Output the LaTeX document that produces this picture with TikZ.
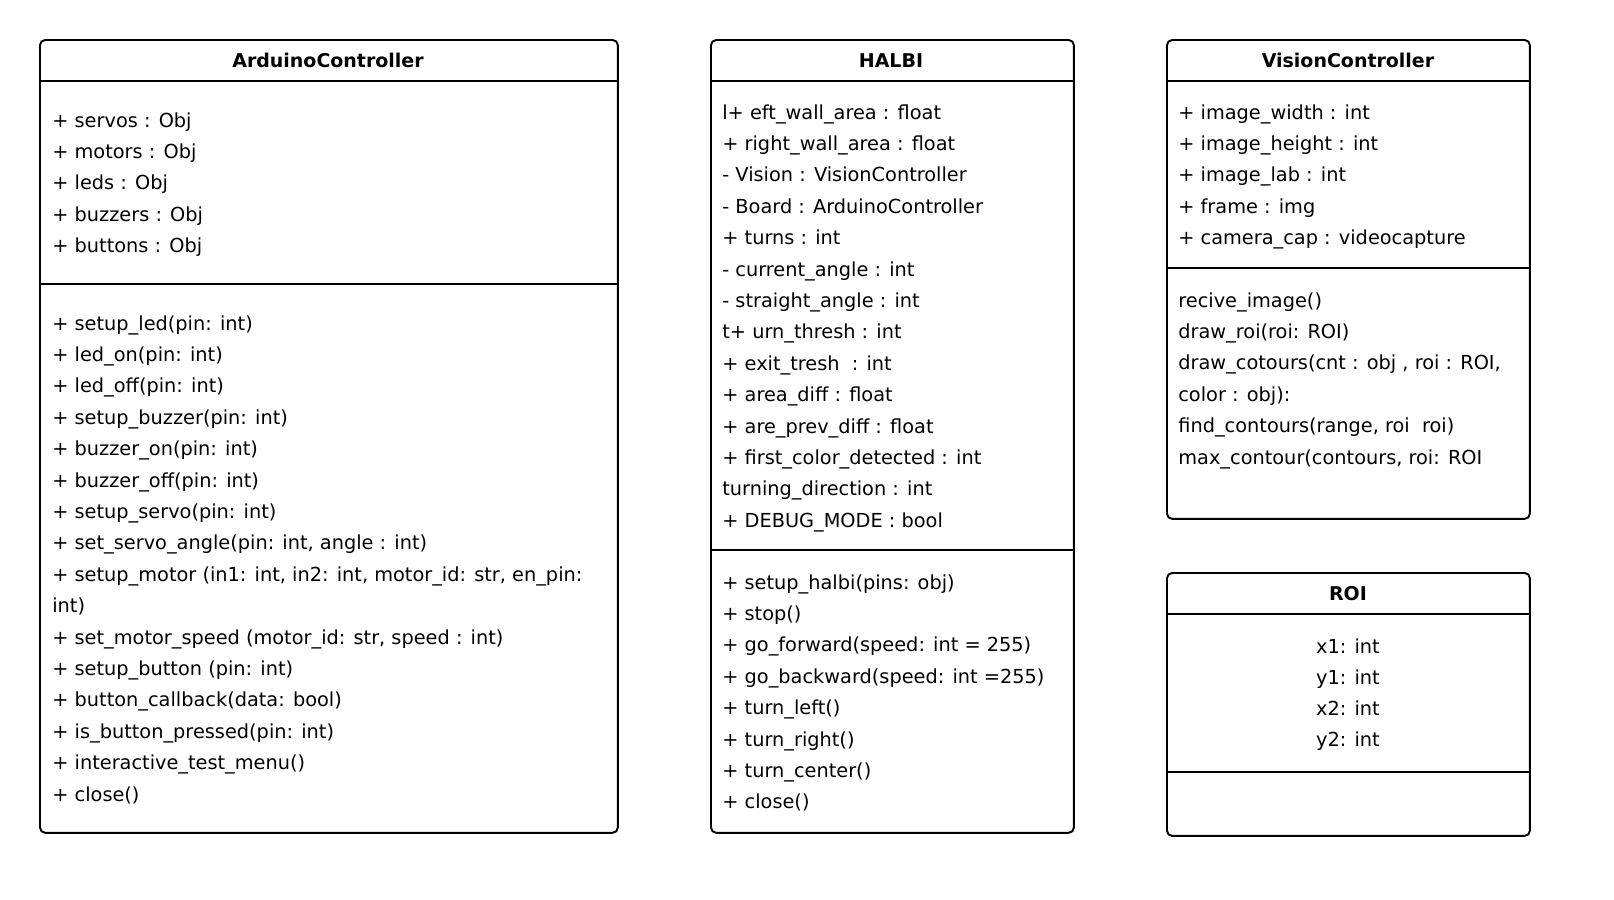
\documentclass[tikz,border=0pt]{standalone}
\usepackage{fontspec}
\setmainfont{DejaVu Sans}
\usetikzlibrary{positioning}

\begin{document}
\begin{tikzpicture}[
  x=0.02cm, y=-0.02cm,
  classbox/.style={draw, line width=1.1pt, rounded corners=3pt, anchor=north west, inner sep=0pt},
  sepline/.style={line width=1.1pt},
  classname/.style={font=\fontsize{10.8}{13}\selectfont\bfseries, anchor=base, inner sep=0pt},
  member/.style={font=\fontsize{11}{13}\selectfont, anchor=base west, inner sep=0pt},
  field/.style={font=\fontsize{11}{13}\selectfont, anchor=base, inner sep=0pt},
]
\useasboundingbox (0,0) rectangle (1614,900);

% ========== ArduinoController (left) ==========
\node[classbox, minimum width=11.56cm, minimum height=15.86cm] (ard) at (39,39) {};
\node[classname] (ard_title) at (328,67) {ArduinoController};
\draw[sepline] (ard.west |- 0,81) -- (ard.east |- 0,81);
\draw[sepline] (ard.west |- 0,284) -- (ard.east |- 0,284);
\foreach \txt [count=\i from 0] in {+ servos : Obj, + motors : Obj, + leds : Obj, + buzzers : Obj, + buttons : Obj}
  \node[member] (ard_attr\i) at (52,127+31.4*\i) {\txt};
\foreach \txt [count=\i from 0] in {
  + setup\_led(pin: int), + led\_on(pin: int), + led\_off(pin: int),
  + setup\_buzzer(pin: int), + buzzer\_on(pin: int), + buzzer\_off(pin: int),
  + setup\_servo(pin: int), {+ set\_servo\_angle(pin: int, angle : int)},
  {+ setup\_motor (in1: int, in2: int, motor\_id: str, en\_pin:}, int),
  {+ set\_motor\_speed (motor\_id: str, speed : int)}, + setup\_button (pin: int),
  + button\_callback(data: bool), + is\_button\_pressed(pin: int),
  + interactive\_test\_menu(), + close()}
  \node[member] (ard_op\i) at (52,330+31.4*\i) {\txt};

% ========== HALBI (center) ==========
\node[classbox, minimum width=7.26cm, minimum height=15.86cm] (halbi) at (710,39) {};
\node[classname] (halbi_title) at (891,67) {HALBI};
\draw[sepline] (halbi.west |- 0,81) -- (halbi.east |- 0,81);
\draw[sepline] (halbi.west |- 0,550) -- (halbi.east |- 0,550);
\foreach \txt [count=\i from 0] in {
  l+ eft\_wall\_area : float, + right\_wall\_area : float,
  - Vision : VisionController, - Board : ArduinoController,
  + turns : int, - current\_angle : int, - straight\_angle : int,
  t+ urn\_thresh : int, + exit\_tresh\ \ : int, + area\_diff : float,
  + are\_prev\_diff : float, + first\_color\_detected : int,
  turning\_direction : int, + DEBUG\_MODE : bool}
  \node[member] (halbi_attr\i) at (722,119+31.4*\i) {\txt};
\foreach \txt [count=\i from 0] in {
  + setup\_halbi(pins: obj), + stop(), + go\_forward(speed: int = 255),
  + go\_backward(speed: int =255), + turn\_left(), + turn\_right(),
  + turn\_center(), + close()}
  \node[member] (halbi_op\i) at (722,589+31.4*\i) {\txt};

% ========== VisionController (right, top) ==========
\node[classbox, minimum width=7.26cm, minimum height=9.58cm] (vision) at (1166,39) {};
\node[classname] (vision_title) at (1348,67) {VisionController};
\draw[sepline] (vision.west |- 0,81) -- (vision.east |- 0,81);
\draw[sepline] (vision.west |- 0,268) -- (vision.east |- 0,268);
\foreach \txt [count=\i from 0] in {
  + image\_width : int, + image\_height : int, + image\_lab : int,
  + frame : img, + camera\_cap : videocapture}
  \node[member] (vision_attr\i) at (1178,119+31.4*\i) {\txt};
\foreach \txt [count=\i from 0] in {
  recive\_image(), draw\_roi(roi: ROI), {draw\_cotours(cnt : obj , roi : ROI,},
  color : obj):, {find\_contours(range, roi\ \ roi)}, {max\_contour(contours, roi: ROI}}
  \node[member] (vision_op\i) at (1178,307+31.4*\i) {\txt};

% ========== ROI (right, bottom) ==========
\node[classbox, minimum width=7.26cm, minimum height=5.26cm] (roi) at (1166,572) {};
\node[classname] (roi_title) at (1348,600) {ROI};
\draw[sepline] (roi.west |- 0,614) -- (roi.east |- 0,614);
\draw[sepline] (roi.west |- 0,772) -- (roi.east |- 0,772);
\foreach \txt [count=\i from 0] in {x1: int, y1: int, x2: int, y2: int}
  \node[field] (roi_attr\i) at (1348,653+31.3*\i) {\txt};

\end{tikzpicture}
\end{document}
